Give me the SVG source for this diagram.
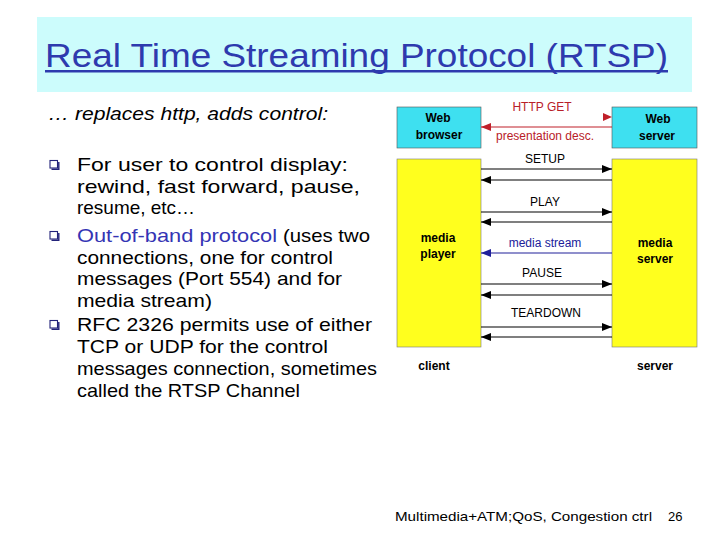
<svg xmlns="http://www.w3.org/2000/svg" width="720" height="540" viewBox="0 0 720 540">
<style>
.title{font-family:"Liberation Sans",Arial,sans-serif;font-size:34px;fill:#2e3aae}
.body{font-family:"Liberation Sans",Arial,sans-serif;font-size:19px;fill:#000}
.blue{fill:#3434b4}
.lbl{font-family:"Liberation Sans",Arial,sans-serif;font-size:12px;font-weight:bold;fill:#000;text-anchor:middle}
.msg{font-family:"Liberation Sans",Arial,sans-serif;font-size:12px;fill:#000;text-anchor:middle}
.cyan{fill:#3ee0f0;stroke:#555;stroke-width:0.6}
.yel{fill:#ffff1e;stroke:#777;stroke-width:0.6}
.ln{stroke:#000;stroke-width:1.2;fill:none}
.foot{font-family:"Liberation Sans",Arial,sans-serif;font-size:13px;fill:#000}
.bul{fill:none;stroke:#23237a;stroke-width:1.1}
</style>
<defs>
<marker id="ah" viewBox="0 0 10 8" refX="10" refY="4" markerWidth="10" markerHeight="8" markerUnits="userSpaceOnUse" orient="auto"><path d="M0,0 L10,4 L0,8 z" fill="#000"/></marker>
<marker id="ahr" viewBox="0 0 10 8" refX="10" refY="4" markerWidth="10" markerHeight="8" markerUnits="userSpaceOnUse" orient="auto"><path d="M0,0 L10,4 L0,8 z" fill="#c0202a"/></marker>
<marker id="ahb" viewBox="0 0 10 8" refX="10" refY="4" markerWidth="10" markerHeight="8" markerUnits="userSpaceOnUse" orient="auto"><path d="M0,0 L10,4 L0,8 z" fill="#20209a"/></marker>
<g id="bullet"><rect x="0" y="0" width="7.5" height="7.5" class="bul"/><path d="M8.8,1.5 V8.8 H1.5" stroke="#23237a" stroke-width="1.4" fill="none"/></g>
</defs>
<rect width="720" height="540" fill="#fff"/>

<g id="title">
<rect x="37" y="17" width="655" height="75" fill="#ccfcfc"/>
<text class="title" x="45" y="67" textLength="623" lengthAdjust="spacingAndGlyphs">Real Time Streaming Protocol (RTSP)</text>
<rect x="45" y="70" width="623" height="2.5" fill="#2e3aae"/>
</g>

<g id="text">
<text class="body" x="48" y="120" font-style="italic" textLength="280" lengthAdjust="spacingAndGlyphs">… replaces http, adds control:</text>
<use href="#bullet" x="50" y="160.5"/>
<text class="body" x="77" y="171" textLength="271" lengthAdjust="spacingAndGlyphs">For user to control display:</text>
<text class="body" x="77" y="193" textLength="283" lengthAdjust="spacingAndGlyphs">rewind, fast forward, pause,</text>
<text class="body" x="77" y="214" textLength="118" lengthAdjust="spacingAndGlyphs">resume, etc…</text>
<use href="#bullet" x="50" y="231.5"/>
<text class="body blue" x="77" y="242" textLength="200" lengthAdjust="spacingAndGlyphs">Out-of-band protocol</text>
<text class="body" x="283" y="242" textLength="87" lengthAdjust="spacingAndGlyphs">(uses two</text>
<text class="body" x="77" y="264" textLength="256" lengthAdjust="spacingAndGlyphs">connections, one for control</text>
<text class="body" x="77" y="285" textLength="265" lengthAdjust="spacingAndGlyphs">messages (Port 554) and for</text>
<text class="body" x="77" y="307" textLength="135" lengthAdjust="spacingAndGlyphs">media stream)</text>
<use href="#bullet" x="50" y="320.5"/>
<text class="body" x="77" y="331" textLength="295" lengthAdjust="spacingAndGlyphs">RFC 2326 permits use of either</text>
<text class="body" x="77" y="353" textLength="251" lengthAdjust="spacingAndGlyphs">TCP or UDP for the control</text>
<text class="body" x="77" y="375" textLength="300" lengthAdjust="spacingAndGlyphs">messages connection, sometimes</text>
<text class="body" x="77" y="397" textLength="223" lengthAdjust="spacingAndGlyphs">called the RTSP Channel</text>
</g>

<g id="web-browser">
<rect class="cyan" x="397" y="107" width="84" height="41"/>
<text class="lbl" x="438" y="122">Web</text>
<text class="lbl" x="439" y="139">browser</text>
</g>
<g id="web-server">
<rect class="cyan" x="612" y="107" width="85" height="41"/>
<text class="lbl" x="658" y="123">Web</text>
<text class="lbl" x="657" y="140">server</text>
</g>
<g id="media-player">
<rect class="yel" x="397" y="159" width="84" height="188"/>
<text class="lbl" x="438" y="242">media</text>
<text class="lbl" x="438" y="258">player</text>
</g>
<g id="media-server">
<rect class="yel" x="612" y="159" width="85" height="188"/>
<text class="lbl" x="655" y="247">media</text>
<text class="lbl" x="655" y="263">server</text>
</g>
<g id="client-label"><text class="lbl" x="434" y="370">client</text></g>
<g id="server-label"><text class="lbl" x="655" y="370">server</text></g>

<g id="connectors">
<path d="M603,113 L612,117 L603,121 z" fill="#c0202a"/>
<line x1="612" y1="127" x2="481" y2="127" stroke="#c0202a" stroke-width="1.2" marker-end="url(#ahr)"/>
<line class="ln" x1="481" y1="169" x2="612" y2="169" marker-end="url(#ah)"/>
<line class="ln" x1="612" y1="180" x2="481" y2="180" marker-end="url(#ah)"/>
<line class="ln" x1="481" y1="212" x2="612" y2="212" marker-end="url(#ah)"/>
<line class="ln" x1="612" y1="222" x2="481" y2="222" marker-end="url(#ah)"/>
<line x1="612" y1="253" x2="481" y2="253" stroke="#20209a" stroke-width="1.2" marker-end="url(#ahb)"/>
<line class="ln" x1="481" y1="284" x2="612" y2="284" marker-end="url(#ah)"/>
<line class="ln" x1="612" y1="295" x2="481" y2="295" marker-end="url(#ah)"/>
<line class="ln" x1="481" y1="327" x2="612" y2="327" marker-end="url(#ah)"/>
<line class="ln" x1="612" y1="337" x2="481" y2="337" marker-end="url(#ah)"/>
<text class="msg" x="542" y="111" style="fill:#b82028">HTTP GET</text>
<text class="msg" x="545" y="140" style="fill:#b82028">presentation desc.</text>
<text class="msg" x="545" y="163">SETUP</text>
<text class="msg" x="545" y="206">PLAY</text>
<text class="msg" x="545" y="247" style="fill:#20209a">media stream</text>
<text class="msg" x="542" y="277">PAUSE</text>
<text class="msg" x="546" y="317">TEARDOWN</text>
</g>

<g id="footer">
<text class="foot" x="395" y="521" textLength="257" lengthAdjust="spacingAndGlyphs">Multimedia+ATM;QoS, Congestion ctrl</text>
<text class="foot" x="668" y="521">26</text>
</g>
</svg>
